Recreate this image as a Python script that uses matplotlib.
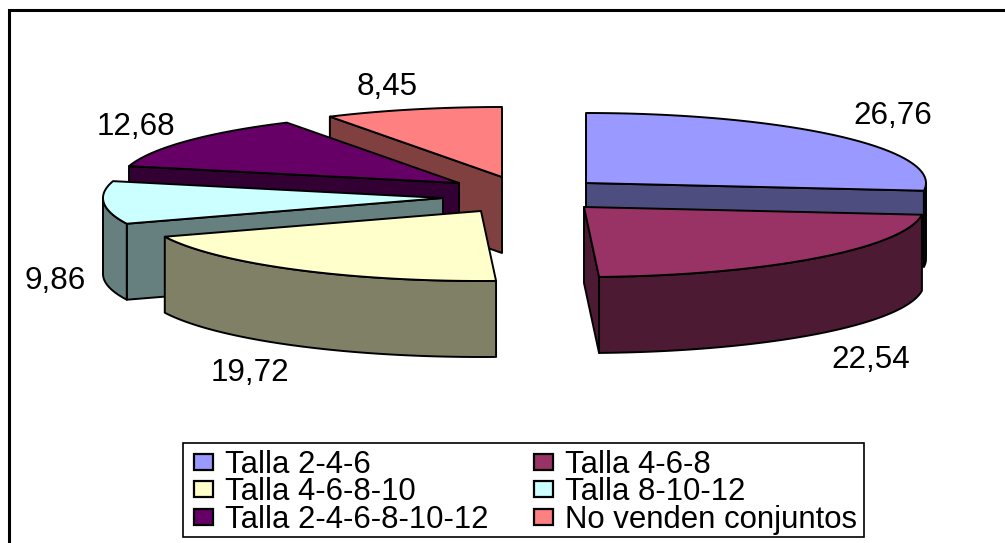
import numpy as np
import matplotlib
matplotlib.use("Agg")
import matplotlib.pyplot as plt
from matplotlib.patches import Polygon, Patch, Rectangle

plt.rcParams['font.family'] = ['Liberation Sans', 'DejaVu Sans']

names = ["Talla 2-4-6", "Talla 4-6-8", "Talla 4-6-8-10", "Talla 8-10-12",
         "Talla 2-4-6-8-10-12", "No venden conjuntos"]
values = [26.76, 22.54, 19.72, 9.86, 12.68, 8.45]
top_colors = ["#9999FF", "#993366", "#FFFFCC", "#CCFFFF", "#660066", "#FF8080"]
side_colors = ["#4D4D80", "#4D1A33", "#808066", "#668080", "#330033", "#804040"]

# pie geometry in pixels, slices were dragged apart by hand in the original
rx = 340
ry = 70
depth = 76
apex = [(586, 183), (584, 207), (481, 211), (443, 198), (459, 183), (502, 177)]
label_pos = [(893, 116), (871, 360), (250, 373), (55, 281), (136, 127), (387, 87)]
draw_order = [5, 4, 3, 2, 0, 1]

shares = np.array(values) / sum(values) * 360
ends = np.cumsum(shares)
starts = ends - shares


def rim(cx, cy, a0, a1):
    t = np.radians(np.linspace(a0, a1, 60))
    return np.column_stack((cx + rx * np.sin(t), cy - ry * np.cos(t)))


def drop(pts):
    return pts + np.array([0, depth])


fig = plt.figure(figsize=(10.05, 5.43), dpi=100)
ax = fig.add_axes([0, 0, 1, 1])
ax.set_xlim(0, 1005)
ax.set_ylim(543, 0)
ax.axis("off")

# chart frame, the right and bottom sides are cut off in the original
ax.plot([9, 9, 1005], [543, 10, 10], color="black", lw=2.2, solid_joinstyle="miter")

for i in draw_order:
    cx, cy = apex[i]
    arc = rim(cx, cy, starts[i], ends[i])
    centre = np.array([[cx, cy]])
    style = dict(edgecolor="black", linewidth=1.4, joinstyle="round")

    # cut faces, only the ones turned towards the viewer
    faces = []
    if np.sin(np.radians(starts[i])) < -1e-6:
        faces.append(arc[0])
    if np.sin(np.radians(ends[i])) > 1e-6:
        faces.append(arc[-1])
    for p in faces:
        edge = np.vstack((centre, [p]))
        ax.add_patch(Polygon(np.vstack((edge, drop(edge)[::-1])), facecolor=side_colors[i], **style))

    # outer wall, only the front half can be seen
    a0 = max(starts[i], 90)
    a1 = min(ends[i], 270)
    if a1 > a0:
        wall = rim(cx, cy, a0, a1)
        ax.add_patch(Polygon(np.vstack((wall, drop(wall)[::-1])), facecolor=side_colors[i], **style))

    ax.add_patch(Polygon(np.vstack((centre, arc)), facecolor=top_colors[i], **style))

for v, (x, y) in zip(values, label_pos):
    ax.text(x, y, f"{v:.2f}".replace(".", ","), fontsize=22.6, ha="center", va="center", color="black")

# legend box drawn apart, its padding is uneven in the original
ax.add_patch(Rectangle((183, 443), 681, 94, facecolor="white", edgecolor="black", linewidth=1.2, zorder=4))
handles = [Patch(facecolor=c, edgecolor="black", linewidth=1.6) for c in top_colors]
order = [0, 2, 4, 1, 3, 5]
leg = ax.legend([handles[i] for i in order], [names[i] for i in order], ncol=2,
                loc="upper left", bbox_to_anchor=(187 / 1005, 1 - 443 / 543),
                fontsize=22.4, frameon=False,
                borderaxespad=0, borderpad=0.22, labelspacing=-0.08, handlelength=0.6,
                handleheight=0.43, handletextpad=0.4, columnspacing=1.47)
leg.set_zorder(5)

fig.savefig("out.png", dpi=100)
